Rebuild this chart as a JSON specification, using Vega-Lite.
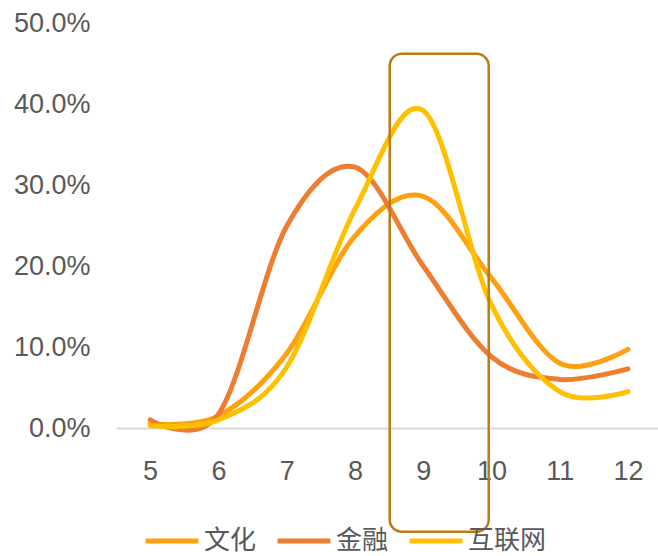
{
  "$schema": "https://vega.github.io/schema/vega-lite/v6.json",
  "width": 542,
  "height": 405,
  "autosize": {"type": "none"},
  "padding": {"left": 116, "top": 23, "right": 0, "bottom": 128},
  "background": "white",
  "config": {"view": {"stroke": null}},
  "datasets": {
    "series": [
      {"month": 5, "group": "文化", "value": 0.005},
      {"month": 6, "group": "文化", "value": 0.015},
      {"month": 7, "group": "文化", "value": 0.092},
      {"month": 8, "group": "文化", "value": 0.237},
      {"month": 9, "group": "文化", "value": 0.286},
      {"month": 10, "group": "文化", "value": 0.185},
      {"month": 11, "group": "文化", "value": 0.08},
      {"month": 12, "group": "文化", "value": 0.097},
      {"month": 5, "group": "金融", "value": 0.01},
      {"month": 6, "group": "金融", "value": 0.017},
      {"month": 7, "group": "金融", "value": 0.249},
      {"month": 8, "group": "金融", "value": 0.322},
      {"month": 9, "group": "金融", "value": 0.2},
      {"month": 10, "group": "金融", "value": 0.088},
      {"month": 11, "group": "金融", "value": 0.06},
      {"month": 12, "group": "金融", "value": 0.073},
      {"month": 5, "group": "互联网", "value": 0.003},
      {"month": 6, "group": "互联网", "value": 0.01},
      {"month": 7, "group": "互联网", "value": 0.075},
      {"month": 8, "group": "互联网", "value": 0.27},
      {"month": 9, "group": "互联网", "value": 0.392},
      {"month": 10, "group": "互联网", "value": 0.152},
      {"month": 11, "group": "互联网", "value": 0.045},
      {"month": 12, "group": "互联网", "value": 0.045}
    ],
    "box": [{"x1": 8.51, "x2": 9.96, "y1": -0.128, "y2": 0.462}]
  },
  "layer": [
    {
      "data": {"name": "series"},
      "mark": {"type": "line", "interpolate": "cardinal", "strokeWidth": 5, "strokeCap": "round"},
      "encoding": {
        "x": {
          "field": "month", "type": "quantitative",
          "scale": {"domain": [4.5, 12.44], "nice": false, "zero": false},
          "axis": {
            "values": [5, 6, 7, 8, 9, 10, 11, 12], "format": "d",
            "title": null, "grid": false, "ticks": false,
            "domainColor": "#d9d9d9", "domainWidth": 2,
            "labelFont": "Liberation Sans", "labelFontSize": 27, "labelColor": "#595959",
            "labelPadding": 30
          }
        },
        "y": {
          "field": "value", "type": "quantitative",
          "scale": {"domain": [0, 0.5], "nice": false},
          "axis": {
            "values": [0, 0.1, 0.2, 0.3, 0.4, 0.5], "format": ".1%",
            "title": null, "grid": false, "ticks": false, "domain": false,
            "labelFont": "Liberation Sans", "labelFontSize": 27, "labelColor": "#595959",
            "labelPadding": 26
          }
        },
        "color": {
          "field": "group", "type": "nominal",
          "scale": {"domain": ["文化", "金融", "互联网"], "range": ["#FFA010", "#ED7D31", "#FFC000"]},
          "legend": {
            "title": null, "orient": "none", "direction": "horizontal",
            "legendX": 27, "legendY": 489,
            "symbolType": "stroke", "symbolSize": 2800, "symbolStrokeWidth": 5,
            "labelFont": "Noto Sans CJK SC", "labelFontSize": 26, "labelColor": "#595959",
            "labelOffset": 3, "columnPadding": 10
          }
        }
      }
    },
    {
      "data": {"name": "box"},
      "mark": {"type": "rect", "fill": null, "stroke": "#BF7A12", "strokeWidth": 2.5, "cornerRadius": 12, "clip": false},
      "encoding": {
        "x": {"field": "x1", "type": "quantitative"},
        "x2": {"field": "x2"},
        "y": {"field": "y1", "type": "quantitative"},
        "y2": {"field": "y2"}
      }
    }
  ]
}
